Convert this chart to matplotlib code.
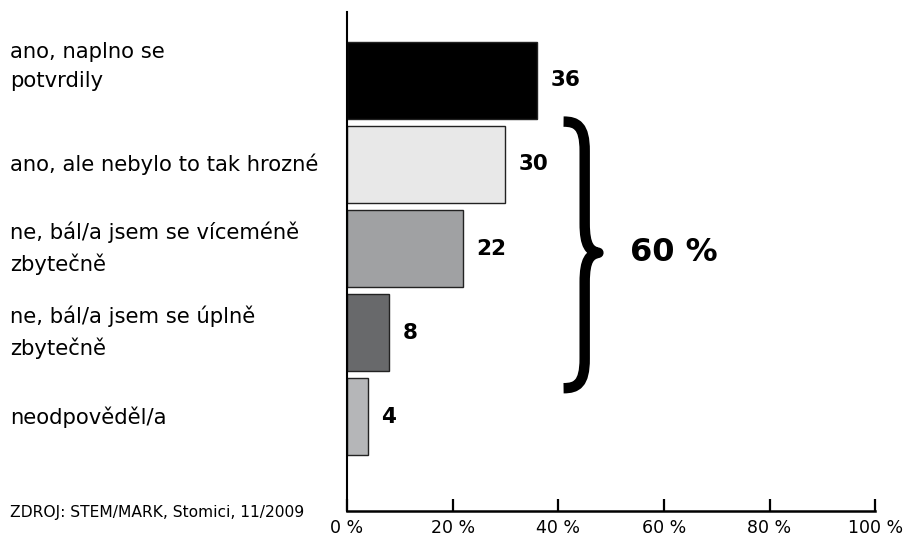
import matplotlib.pyplot as plt
from matplotlib.path import Path
from matplotlib.patches import PathPatch

categories = [
    "ano, naplno se\npotvrdily",
    "ano, ale nebylo to tak hrozné",
    "ne, bál/a jsem se víceméně\nzbytečně",
    "ne, bál/a jsem se úplně\nzbytečně",
    "neodpověděl/a",
]
values = [36, 30, 22, 8, 4]
colors = ["#000000", "#e8e8e8", "#a0a1a3", "#68696b", "#b5b6b8"]
tick_values = [0, 20, 40, 60, 80, 100]
tick_labels = ["0 %", "20 %", "40 %", "60 %", "80 %", "100 %"]
brace_label = "60 %"
source = "ZDROJ: STEM/MARK, Stomici, 11/2009"

fig = plt.figure(figsize=(9.06, 5.39), dpi=100)
ax = fig.add_axes([0.383, 0.052, 0.583, 0.926])

ypos = list(range(len(values)))
ax.barh(ypos, values, height=0.92, color=colors, edgecolor="#222222", linewidth=1.0)

ax.set_xlim(0, 100)
ax.set_ylim(5.12, -0.815)

for y, v in zip(ypos, values):
    ax.annotate(str(v), xy=(v, y), xytext=(9.5, 0), textcoords="offset points",
                ha="left", va="center", fontsize=15.5, fontweight="bold")

# category labels at left edge of the figure
for i, (y, lab) in enumerate(zip(ypos, categories)):
    dy = 10 if i == 0 else 0
    ax.annotate(lab, xy=(0, y), xycoords=("figure fraction", "data"),
                xytext=(7, dy), textcoords="offset points",
                ha="left", va="center", fontsize=15.2, linespacing=1.6)

# curly brace over bars 2-4
x0, xs, xt = 41.0, 45.0, 47.6
ya, ym, yb = 0.49, 2.05, 3.66
verts = [
    (x0, ya), (xs - 1.5, ya), (xs, ya + 0.05), (xs, ya + 0.35),
    (xs, ym - 0.35),
    (xs, ym - 0.08), (xs + 1.0, ym - 0.02), (xt, ym),
    (xs + 1.0, ym + 0.02), (xs, ym + 0.08), (xs, ym + 0.35),
    (xs, yb - 0.35),
    (xs, yb - 0.05), (xs - 1.5, yb), (x0, yb),
]
codes = [Path.MOVETO, Path.CURVE4, Path.CURVE4, Path.CURVE4,
         Path.LINETO,
         Path.CURVE4, Path.CURVE4, Path.CURVE4,
         Path.CURVE4, Path.CURVE4, Path.CURVE4,
         Path.LINETO,
         Path.CURVE4, Path.CURVE4, Path.CURVE4]
ax.add_patch(PathPatch(Path(verts, codes), facecolor="none", edgecolor="black",
                       linewidth=7.5, capstyle="butt", joinstyle="round", clip_on=False))
ax.text(53.5, ym, brace_label, ha="left", va="center", fontsize=23, fontweight="bold")

ax.set_xticks(tick_values)
ax.set_xticklabels(tick_labels, fontsize=12.5)
ax.tick_params(axis="x", direction="in", length=9, width=1.6, pad=6)
ax.set_yticks([])
for side in ["top", "right"]:
    ax.spines[side].set_visible(False)
ax.spines["left"].set_linewidth(1.5)
ax.spines["bottom"].set_linewidth(1.8)

fig.text(10 / 906, 1 - 513 / 539, source, ha="left", va="center", fontsize=11.2)

fig.savefig("out.png", dpi=100)
